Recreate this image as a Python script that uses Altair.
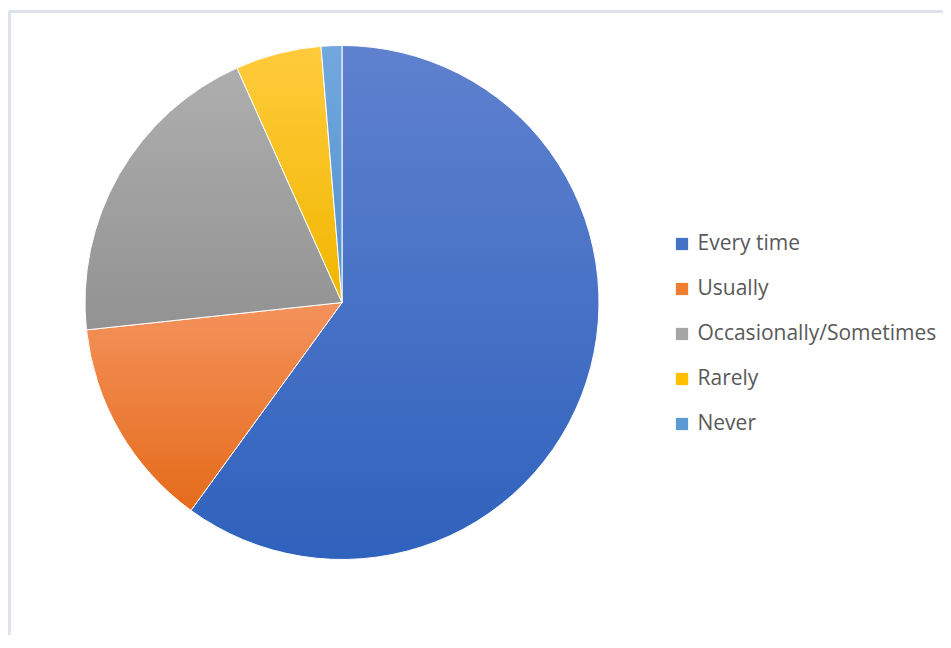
import altair as alt
import pandas as pd

categories = ["Every time", "Usually", "Occasionally/Sometimes", "Rarely", "Never"]
values = [60.0, 13.3, 20.0, 5.4, 1.3]
solid_colors = ["#4472C4", "#ED7D31", "#A5A5A5", "#FFC000", "#5B9BD5"]
grad_top = ["#5F81CE", "#F4925C", "#AEAEAE", "#FFCB3C", "#72A8DE"]
grad_bottom = ["#2F62BD", "#E46B1A", "#929292", "#F0B600", "#5290CE"]

df = pd.DataFrame({"category": categories, "value": values, "order": list(range(len(categories)))})
total = float(sum(values))

W, H = 934, 624
CX, CY, R = 333, 291.5, 257

base = (
    alt.Chart(df)
    .transform_window(end="sum(value)", sort=[alt.SortField("order")], frame=[None, 0])
    .transform_calculate(start="datum.end - datum.value")
)

theta = alt.Theta("start:Q", scale=alt.Scale(domain=[0, total]))
theta2 = alt.Theta2("end:Q")

solid = base.mark_arc(outerRadius=R, stroke="white", strokeWidth=1).encode(
    theta=theta,
    theta2=theta2,
    x=alt.value(CX),
    y=alt.value(CY),
    color=alt.Color(
        "category:N",
        scale=alt.Scale(domain=categories, range=solid_colors),
        sort=categories,
        legend=alt.Legend(
            title=None,
            orient="none",
            legendX=662.5,
            legendY=222.5,
            symbolType="square",
            symbolSize=150,
            symbolStrokeWidth=0,
            labelFont="Open Sans",
            labelFontSize=21,
            labelColor="#595959",
            labelOffset=5,
            rowPadding=23,
            padding=0,
            labelLimit=400,
        ),
    ),
)

layers = [solid]
for cat, top, bot in zip(categories, grad_top, grad_bottom):
    g = alt.Gradient(
        gradient="linear",
        x1=0, x2=0, y1=0, y2=1,
        stops=[alt.GradientStop(color=top, offset=0), alt.GradientStop(color=bot, offset=1)],
    )
    layers.append(
        base.transform_filter(alt.datum.category == cat)
        .mark_arc(outerRadius=R, stroke="white", strokeWidth=1, fill=g)
        .encode(theta=theta, theta2=theta2, x=alt.value(CX), y=alt.value(CY))
    )

border_top = alt.Chart(df).mark_rule(color="#DEE2EA", strokeWidth=3).encode(
    x=alt.value(0), x2=alt.value(W), y=alt.value(0.5)
)
border_left = alt.Chart(df).mark_rule(color="#DEE2EA", strokeWidth=3).encode(
    x=alt.value(0.5), y=alt.value(0), y2=alt.value(H)
)

chart = (
    alt.layer(border_top, border_left, *layers)
    .properties(
        width=W,
        height=H,
        autosize=alt.AutoSizeParams(type="none"),
        padding={"left": 1, "top": 3, "right": 0, "bottom": 0},
    )
    .configure_view(stroke="transparent", strokeWidth=0)
    .configure(background="white")
)

chart.save("out.html", embed_options={"renderer": "svg", "actions": False})
